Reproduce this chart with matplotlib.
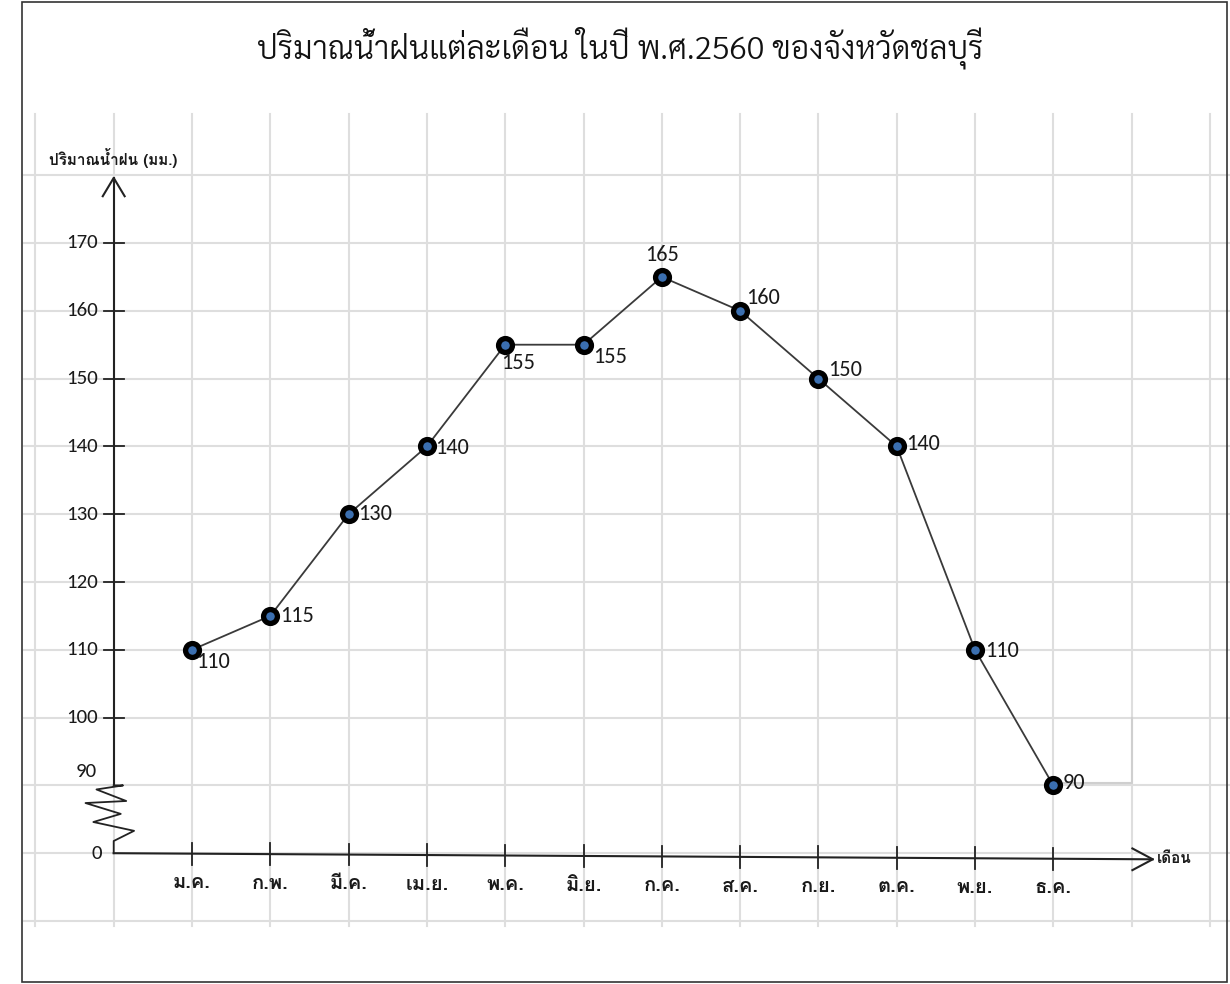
import matplotlib
matplotlib.use("Agg")
import matplotlib.pyplot as plt
import numpy as np

# ---------------- data ----------------
months = ["ม.ค.", "ก.พ.", "มี.ค.", "เม.ย.", "พ.ค.", "มิ.ย.",
          "ก.ค.", "ส.ค.", "ก.ย.", "ต.ค.", "พ.ย.", "ธ.ค."]
rain = [110, 115, 130, 140, 155, 155, 165, 160, 150, 140, 110, 90]
y_ticks = [100, 110, 120, 130, 140, 150, 160, 170]
title = "ปริมาณน้ำฝนแต่ละเดือน ในปี พ.ศ.2560 ของจังหวัดชลบุรี"
y_label = "ปริมาณน้ำฝน (มม.)"
x_label = "เดือน"

THAI = ["Loma", "Noto Sans Thai Looped", "DejaVu Sans"]
TITLE_F = ["Sarabun", "Noto Sans Thai Looped", "DejaVu Sans"]
NUM = ["Carlito", "DejaVu Sans"]
plt.rcParams["font.family"] = THAI

# ---------------- layout ----------------
fig = plt.figure(figsize=(12.3, 9.84), dpi=100)
ax = fig.add_axes([0, 0, 1, 1])
ax.set_xlim(-192 / 78.3, (1230 - 192) / 78.3)
ax.set_ylim(170 - (984 - 243) / 6.78, 170 + 243 / 6.78)
ax.axis("off")

grid_c = "#dedede"
for gx in range(-2, 14):
    ax.plot([gx, gx], [69.3, 189], color=grid_c, lw=1.5, zorder=0)
for gy in range(70, 190, 10):
    ax.plot([-2.15, 13.3], [gy, gy], color=grid_c, lw=1.5, zorder=0)

# outer frame
fig.patches.append(plt.Rectangle((22 / 1230, 2 / 984), 1205 / 1230, 980 / 984,
                                 transform=fig.transFigure, fill=False,
                                 edgecolor="#333333", lw=1.2))

axis_c = "#222222"
txt_c = "#1a1a1a"
x0 = -1     # y axis position (month units)
base = 80   # value position where the drawn "0" sits
# y axis with arrow
ax.plot([x0, x0], [90, 179.6], color=axis_c, lw=1.5, zorder=3)
ax.plot([x0 - 0.14, x0, x0 + 0.14], [176.9, 179.6, 176.9], color=axis_c, lw=1.5, zorder=3)
for t in y_ticks:
    ax.plot([x0 - 0.13, x0 + 0.13], [t, t], color=axis_c, lw=1.3, zorder=3)
    ax.text(x0 - 0.2, t, str(t), ha="right", va="center", fontsize=15, color=txt_c,
            family=NUM)
ax.text(x0 - 0.22, 92.0, "90", ha="right", va="center", fontsize=15, color=txt_c, family=NUM)
ax.text(x0 - 0.15, base, "0", ha="right", va="center", fontsize=15, color=txt_c, family=NUM)
# axis break zigzag
zz_dx = [0.0, 0.12, -0.22, 0.16, -0.36, 0.09, -0.26, 0.26, 0.0, 0.0]
zz_v = [90, 90, 89.4, 87.7, 87.4, 85.8, 84.6, 83.3, 81.8, 80]
ax.plot([x0 + d for d in zz_dx], zz_v, color=axis_c, lw=1.3, zorder=3)
ax.text(x0 - 0.82, 182.5, y_label, ha="left", va="center", fontsize=11, color=txt_c,
        fontweight="bold")

# x axis with arrow
x_end = 12.27
v_end = 79.1
ax.plot([x0, x_end], [base, v_end], color=axis_c, lw=1.5, zorder=3)
ax.plot([x_end - 0.26, x_end, x_end - 0.26], [v_end + 1.6, v_end, v_end - 1.6],
        color=axis_c, lw=1.5, zorder=3)
ax.text(x_end + 0.05, v_end + 0.1, x_label, ha="left", va="center", fontsize=11,
        color=txt_c, fontweight="bold")
xs = np.arange(len(months))
for i, m in enumerate(months):
    yv = base + (v_end - base) * (i - x0) / (x_end - x0)
    ax.plot([i, i], [yv + 1.6, yv - 1.6], color=axis_c, lw=1.3, zorder=3)
    ax.text(i, yv - 4.3, m, ha="center", va="center", fontsize=14.5, color=txt_c,
            fontweight="bold")

# light box near bottom right
ax.plot([11, 12, 12], [90.3, 90.3, 100], color="#cfcfcf", lw=1.5, zorder=1)

# data line
ax.plot(xs, rain, color="#3a3a3a", lw=1.3, zorder=4)
ax.scatter(xs, rain, s=100, facecolor="#3b6fb0", edgecolor="black", linewidth=3.8, zorder=5)

offsets = [(3, -9, "left"), (7, 0, "left"), (7, 0, "left"), (6, -1, "left"),
           (-3, -13, "left"), (7, -9, "left"), (0, 16, "center"), (4, 9, "left"),
           (7, 6, "left"), (7, 2, "left"), (7, -1, "left"), (7, 2, "left")]
for i, (v, (dx, dy, ha)) in enumerate(zip(rain, offsets)):
    ax.annotate(str(v), (i, v), xytext=(dx, dy), textcoords="offset points",
                ha=ha, va="center", fontsize=16, color=txt_c, zorder=6, family=NUM)

fig.text(0.504, 0.951, title, ha="center", va="center", fontsize=23, color="#111111",
         family=TITLE_F, fontweight=300)

fig.savefig("out.png", dpi=100)
